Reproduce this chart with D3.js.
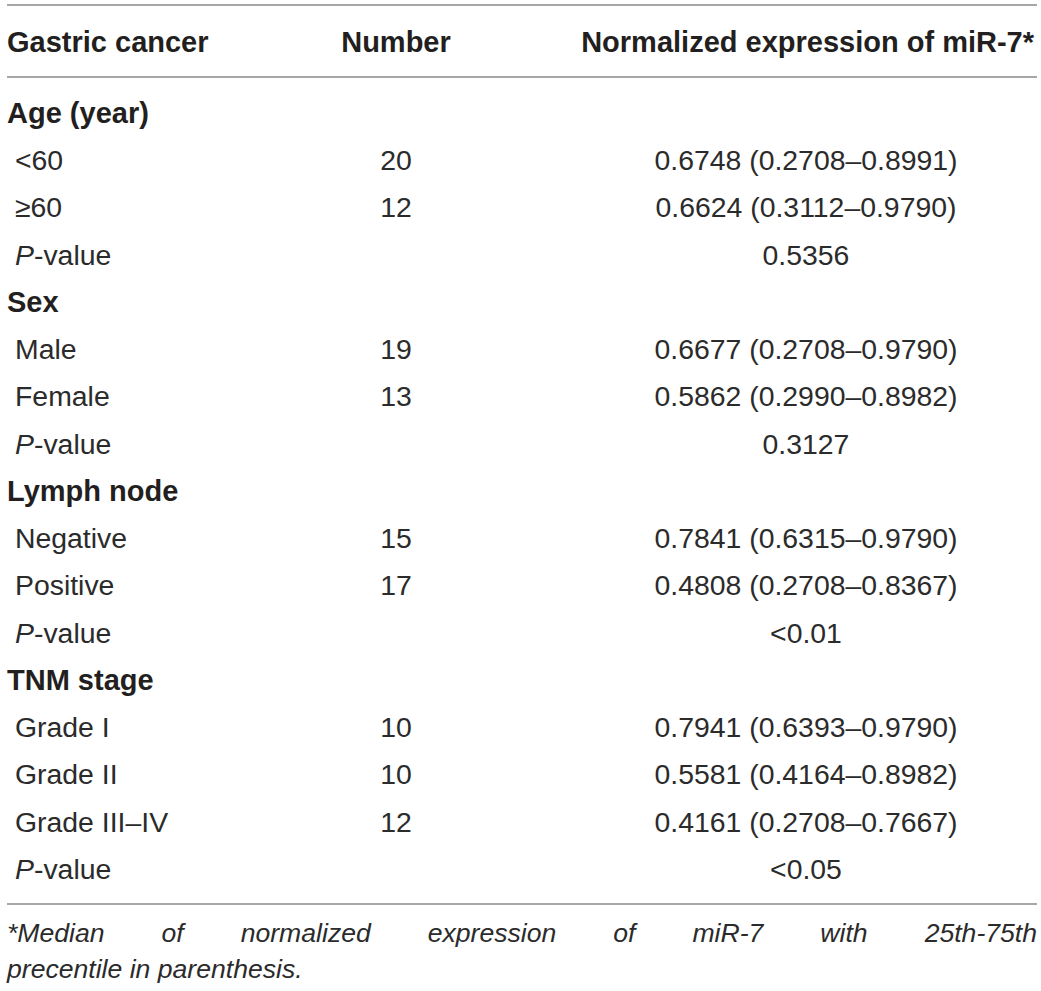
<!DOCTYPE html>
<html>
<head>
<meta charset="utf-8">
<script src="https://cdn.jsdelivr.net/npm/d3@7"></script>
<style>
  body { margin: 0; background: #fff; }
  text { font-family: "Liberation Sans", Arial, sans-serif; fill: #231f20; }
  text.reg { fill: #2b2b2b; }
</style>
</head>
<body>
<div id="t1"></div>
<script>
// table content
const headers   = ['Gastric cancer', 'Number', 'Normalized expression of miR-7*']
const groups    = ['Age (year)', 'Sex', 'Lymph node', 'TNM stage']
const subgroups = [['<60', '\u226560'], ['Male', 'Female'], ['Negative', 'Positive'], ['Grade I', 'Grade II', 'Grade III\u2013IV']]
const numbers   = [[20, 12], [19, 13], [15, 17], [10, 10, 12]]
const medians   = [
  ['0.6748 (0.2708\u20130.8991)', '0.6624 (0.3112\u20130.9790)'],
  ['0.6677 (0.2708\u20130.9790)', '0.5862 (0.2990\u20130.8982)'],
  ['0.7841 (0.6315\u20130.9790)', '0.4808 (0.2708\u20130.8367)'],
  ['0.7941 (0.6393\u20130.9790)', '0.5581 (0.4164\u20130.8982)', '0.4161 (0.2708\u20130.7667)']
]
const pValues   = ['0.5356', '0.3127', '<0.01', '<0.05']
const footnote  = ['*Median of normalized expression of miR-7 with 25th-75th', 'precentile in parenthesis.']

var W = 1041, H = 991
var fsBold = 29, fsReg = 28.4, fsNote = 26.6

var svg = d3.select('#t1').append('svg').attr('width', W).attr('height', H)

// flatten groups into rows
var rows = []
groups.forEach(function(g, i) {
  rows.push({type: 'group', label: g})
  subgroups[i].forEach(function(s, j) {
    rows.push({type: 'sub', label: s, n: numbers[i][j], med: medians[i][j]})
  })
  rows.push({type: 'p', med: pValues[i]})
})

var y = d3.scaleLinear().domain([0, rows.length - 1]).range([113, 869])
var col = {first: 7, sub: 15, num: 396, med: 806, medRight: 1034}

function rule(yy) {
  svg.append('line').attr('x1', 7).attr('x2', 1037).attr('y1', yy).attr('y2', yy)
    .attr('stroke', '#a7a7a7').attr('stroke-width', 2)
}
rule(5); rule(77); rule(904)

// header
var hy = 42
svg.append('text').attr('x', col.first).attr('y', hy).attr('dy', '0.35em')
  .attr('font-weight', 'bold').attr('font-size', fsBold).text(headers[0])
svg.append('text').attr('x', col.num).attr('y', hy).attr('dy', '0.35em').attr('text-anchor', 'middle')
  .attr('font-weight', 'bold').attr('font-size', fsBold).text(headers[1])
svg.append('text').attr('x', col.medRight).attr('y', hy).attr('dy', '0.35em').attr('text-anchor', 'end')
  .attr('font-weight', 'bold').attr('font-size', fsBold).text(headers[2])

var r = svg.selectAll('g.row').data(rows).enter().append('g').attr('class', 'row')
  .attr('transform', function(d, i) { return 'translate(0,' + y(i) + ')' })

r.filter(function(d) { return d.type == 'group' }).append('text')
  .attr('x', col.first).attr('dy', '0.35em').attr('font-weight', 'bold').attr('font-size', fsBold)
  .text(function(d) { return d.label })

r.filter(function(d) { return d.type == 'sub' }).append('text').attr('class', 'reg')
  .attr('x', col.sub).attr('dy', '0.35em').attr('font-size', fsReg)
  .text(function(d) { return d.label })

r.filter(function(d) { return d.type == 'sub' }).append('text').attr('class', 'reg')
  .attr('x', col.num).attr('dy', '0.35em').attr('text-anchor', 'middle').attr('font-size', fsReg)
  .text(function(d) { return d.n })

var pl = r.filter(function(d) { return d.type == 'p' }).append('text').attr('class', 'reg')
  .attr('x', col.sub).attr('dy', '0.35em').attr('font-size', fsReg)
pl.append('tspan').attr('font-style', 'italic').text('P')
pl.append('tspan').text('-value')

r.filter(function(d) { return d.type != 'group' }).append('text').attr('class', 'reg')
  .attr('x', col.med).attr('dy', '0.35em').attr('text-anchor', 'middle').attr('font-size', fsReg)
  .text(function(d) { return d.med })

// footnote, first line justified
var words = footnote[0].split(' ')
var fg = svg.append('g').attr('font-style', 'italic').attr('font-size', fsNote)
var wt = fg.selectAll('text.w').data(words).enter().append('text').attr('class', 'w reg')
  .attr('y', 933).attr('dy', '0.35em').text(function(d) { return d })
var widths = wt.nodes().map(function(n) { return n.getComputedTextLength() })
var gap = (1037 - 7 - d3.sum(widths)) / (words.length - 1)
var xs = 7
wt.attr('x', function(d, i) { var v = xs; xs += widths[i] + gap; return v })
fg.append('text').attr('class', 'reg').attr('x', 7).attr('y', 969).attr('dy', '0.35em').text(footnote[1])
</script>
</body>
</html>
